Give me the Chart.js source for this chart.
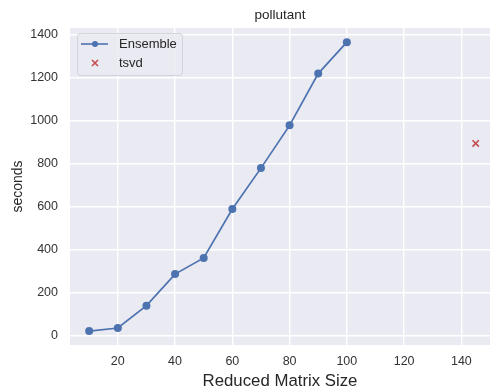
<!DOCTYPE html>
<html>
<head>
  <title>pollutant</title>
  <script src="https://cdn.jsdelivr.net/npm/chart.js@4.4.0/dist/chart.umd.min.js"></script>
  <style>
    body { margin: 0; background: #fff; }
    canvas { display: block; }
  </style>
</head>
<body>
  <canvas id="myChart" width="490" height="392"></canvas>

  <script>
    // reduced matrix size vs time
    var ensembleSizes = [10, 20, 30, 40, 50, 60, 70, 80, 90, 100];
    var ensembleSeconds = [20, 34, 138, 285, 360, 588, 778, 977, 1218, 1364];
    var tsvdSizes = [145];
    var tsvdSeconds = [893];
    var chartTitle = 'pollutant';

    var FONT = '"Liberation Sans", Arial, sans-serif';

    // grey plot area like seaborn darkgrid
    var plotBg = {
      id: 'plotBg',
      beforeDraw: function(chart) {
        var a = chart.chartArea, c = chart.ctx;
        c.save();
        c.fillStyle = '#eaeaf2';
        c.fillRect(a.left, a.top, a.right - a.left, a.bottom - a.top);
        c.restore();
      }
    };

    // title centred on the axes, not on the canvas
    var axesTitle = {
      id: 'axesTitle',
      afterDraw: function(chart) {
        var a = chart.chartArea, c = chart.ctx;
        c.save();
        c.fillStyle = '#262626';
        c.font = '13.5px ' + FONT;
        c.textAlign = 'center';
        c.textBaseline = 'middle';
        c.fillText(chartTitle, (a.left + a.right) / 2, 15);
        c.restore();
      }
    };

    // legend drawn inside the axes, top left
    var innerLegend = {
      id: 'innerLegend',
      afterDraw: function(chart) {
        var a = chart.chartArea, c = chart.ctx;
        var x = a.left + 7, y = a.top + 5;
        c.save();
        c.fillStyle = 'rgba(234,234,242,0.85)';
        c.strokeStyle = '#d4d4dc';
        c.lineWidth = 1;
        c.beginPath();
        c.roundRect(x + 0.5, y + 0.5, 105, 42, 3);
        c.fill();
        c.stroke();

        var ds = chart.data.datasets;
        // Ensemble: line + dot
        c.strokeStyle = '#4c72b0';
        c.lineWidth = 1.6;
        c.beginPath();
        c.moveTo(x + 4, y + 11);
        c.lineTo(x + 31, y + 11);
        c.stroke();
        c.fillStyle = '#4c72b0';
        c.beginPath();
        c.arc(x + 18, y + 11, 3, 0, Math.PI * 2);
        c.fill();
        // tsvd: cross
        c.strokeStyle = '#c44e52';
        c.lineWidth = 1.6;
        c.beginPath();
        c.moveTo(x + 15, y + 27); c.lineTo(x + 21, y + 33);
        c.moveTo(x + 21, y + 27); c.lineTo(x + 15, y + 33);
        c.stroke();

        c.fillStyle = '#262626';
        c.font = '13px ' + FONT;
        c.textBaseline = 'middle';
        c.fillText(ds[0].label, x + 42, y + 11);
        c.fillText(ds[1].label, x + 42, y + 30);
        c.restore();
      }
    };

    var ctx = document.getElementById('myChart').getContext('2d');
    var chart = new Chart(ctx, {
      type: 'scatter',
      data: {
        datasets: [{
          label: 'Ensemble',
          data: ensembleSizes.map(function(s, i) { return { x: s, y: ensembleSeconds[i] }; }),
          showLine: true,
          borderColor: '#4c72b0',
          backgroundColor: '#4c72b0',
          borderWidth: 1.7,
          pointRadius: 4,
          pointBorderWidth: 0,
          pointHoverRadius: 4
        }, {
          label: 'tsvd',
          data: tsvdSizes.map(function(s, i) { return { x: s, y: tsvdSeconds[i] }; }),
          pointStyle: 'cross',
          rotation: 45,
          borderColor: '#c44e52',
          backgroundColor: '#c44e52',
          borderWidth: 1.7,
          pointRadius: 4.5
        }]
      },
      options: {
        responsive: false,
        animation: false,
        layout: { autoPadding: false, padding: { top: 28, right: 0, left: 0, bottom: 0 } },
        plugins: {
          legend: { display: false },
          tooltip: { enabled: false },
          title: { display: false }
        },
        scales: {
          x: {
            type: 'linear',
            min: 3.3,
            max: 150,
            afterFit: function(scale) {
              scale.paddingRight = 0; scale.paddingLeft = 0;
              scale.height = 47;
            },
            ticks: {
              stepSize: 20,
              includeBounds: false,
              color: '#333',
              padding: 9,
              font: { family: FONT, size: 12.5 },
              maxRotation: 0
            },
            grid: { color: '#ffffff', lineWidth: 1.4, drawTicks: false },
            border: { display: false },
            title: {
              display: true,
              text: 'Reduced Matrix Size',
              color: '#262626',
              font: { family: FONT, size: 16.8 },
              padding: { top: 2, bottom: 1 }
            }
          },
          y: {
            min: -45,
            max: 1430,
            afterFit: function(scale) {
              scale.paddingTop = 0; scale.paddingBottom = 0;
              scale.width = 70;
            },
            ticks: {
              stepSize: 200,
              includeBounds: false,
              color: '#333',
              padding: 12,
              font: { family: FONT, size: 12.5 },
              callback: function(v) { return String(v); }
            },
            grid: { color: '#ffffff', lineWidth: 1.4, drawTicks: false },
            border: { display: false },
            title: {
              display: true,
              text: 'seconds',
              color: '#262626',
              font: { family: FONT, size: 14 },
              padding: { top: 10, bottom: 4 }
            }
          }
        }
      },
      plugins: [plotBg, axesTitle, innerLegend]
    });
  </script>
</body>
</html>
